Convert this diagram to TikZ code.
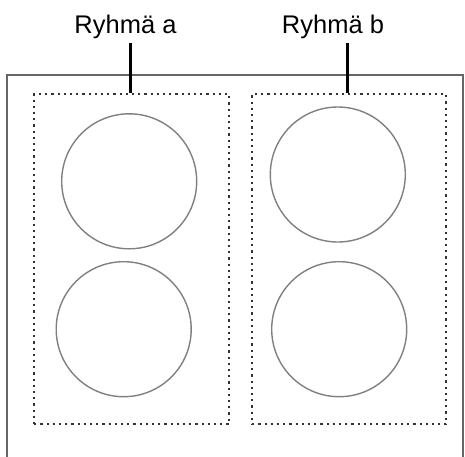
\documentclass[tikz,border=0pt]{standalone}
\usepackage{fontspec}
\setmainfont{Liberation Sans}
\begin{document}
\begin{tikzpicture}[x=1pt,y=-1pt,
  lbl/.style={anchor=base,inner sep=0pt,font=\fontsize{25.5}{30}\selectfont},
  pointer/.style={draw=black,line width=3pt},
  groupbox/.style={draw=black!80,line width=2.2pt,dash pattern=on 2.2pt off 4pt},
  plate/.style={circle,draw=black!50,line width=1.4pt,minimum size=135pt,inner sep=0pt},
  frame/.style={draw=black!60,line width=1.8pt}]
\useasboundingbox[fill=white] (0,0) rectangle (465,456);
\clip (0,0) rectangle (465,456);
% outer frame
\draw[frame] (7,470) -- (7,75) -- (463,75) -- (463,470);
% group boxes
\node[groupbox,minimum width=195pt,minimum height=330pt,inner sep=0pt,anchor=north west] (ga) at (33,93) {};
\node[groupbox,minimum width=194pt,minimum height=330pt,inner sep=0pt,anchor=north west] (gb) at (251,93) {};
% plates
\node[plate] (p1) at (129.2,181.3) {};
\node[plate] (p2) at (123.7,329.2) {};
\node[plate] (p3) at (337.8,174.5) {};
\node[plate] (p4) at (339.2,329.2) {};
% labels
\node[lbl] (la) at (125.5,33) {Ryhmä a};
\node[lbl] (lb) at (333,33) {Ryhmä b};
\coordinate (ta) at (130,43);
\coordinate (tb) at (347,43);
\draw[pointer] (ta) -- (ta |- ga.north);
\draw[pointer] (tb) -- (tb |- gb.north);
\end{tikzpicture}
\end{document}
